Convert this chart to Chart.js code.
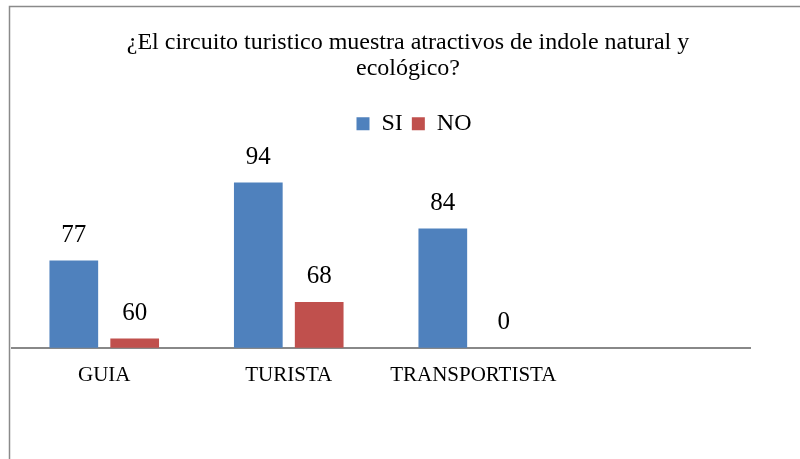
<!DOCTYPE html>
<html>
<head>
<meta charset="utf-8">
<script src="https://cdn.jsdelivr.net/npm/chart.js@4"></script>
<style>
  html, body { margin: 0; padding: 0; background: #fff; overflow: hidden; }
  #wrap { width: 800px; height: 459px; position: relative; }
</style>
</head>
<body>
<div id="wrap"><canvas id="surveyChart"></canvas></div>
<script>
const categories = ["GUIA", "TURISTA", "TRANSPORTISTA", ""];
const siValues = [77, 94, 84, null];
const noValues = [60, 68, 0, null];
const titleLines = ["¿El circuito turistico muestra atractivos de indole natural y", "ecológico?"];

const serif = "'Liberation Serif', 'Times New Roman', serif";

// grey frame around the chart object (top and left edges are visible)
const framePlugin = {
    id: "frame",
    beforeDraw(chart) {
        const ctx = chart.ctx;
        ctx.save();
        ctx.strokeStyle = "#8a8a8a";
        ctx.lineWidth = 1.5;
        ctx.beginPath();
        ctx.moveTo(9.5, 459);
        ctx.lineTo(9.5, 6.5);
        ctx.lineTo(800, 6.5);
        ctx.stroke();
        ctx.restore();
    },
};

// the original chart object is wider than the crop, so title and legend sit right of the plot centre
const shiftHeader = {
    id: "shiftHeader",
    afterLayout(chart) {
        if (chart.titleBlock) {
            chart.titleBlock.left += 27;
            chart.titleBlock.right += 27;
        }
        if (chart.legend) {
            chart.legend.left += 33;
            chart.legend.right += 33;
        }
    },
};

// value labels above each bar
const valueLabels = {
    id: "valueLabels",
    afterDatasetsDraw(chart) {
        const ctx = chart.ctx;
        const bottom = chart.chartArea.bottom;
        ctx.save();
        ctx.font = "25px " + serif;
        ctx.fillStyle = "#000";
        ctx.textAlign = "center";
        ctx.textBaseline = "middle";
        chart.data.datasets.forEach((ds, i) => {
            chart.getDatasetMeta(i).data.forEach((bar, j) => {
                const v = ds.data[j];
                if (v === null || v === undefined) return;
                const top = Math.min(bar.y, bottom);
                ctx.fillText(String(v), bar.x, top - 25);
            });
        });
        ctx.restore();
    },
};

new Chart(document.getElementById("surveyChart"), {
    type: "bar",
    data: {
        labels: categories,
        datasets: [
            {
                label: "SI",
                data: siValues,
                backgroundColor: "#4F81BD",
                categoryPercentage: 0.66,
                barPercentage: 0.8,
            },
            {
                label: "NO",
                data: noValues,
                backgroundColor: "#C0504D",
                categoryPercentage: 0.66,
                barPercentage: 0.8,
            },
        ],
    },
    options: {
        responsive: true,
        maintainAspectRatio: false,
        animation: false,
        layout: {
            padding: { left: 12, right: 50, top: 0, bottom: 56 },
        },
        scales: {
            x: {
                grid: { display: false, drawTicks: false },
                border: { display: true, color: "#888", width: 2 },
                ticks: {
                    color: "#000",
                    padding: 15,
                    font: { family: serif, size: 21 },
                },
            },
            y: {
                display: false,
                min: 58,
                max: 102,
            },
        },
        plugins: {
            title: {
                display: true,
                text: titleLines,
                color: "#000",
                font: { family: serif, size: 24, weight: "normal", lineHeight: 1.08 },
                padding: { top: 30, bottom: 21 },
            },
            legend: {
                labels: {
                    color: "#000",
                    boxWidth: 13,
                    boxHeight: 13,
                    padding: 9,
                    font: { family: serif, size: 24 },
                },
            },
            tooltip: { enabled: false },
        },
    },
    plugins: [framePlugin, shiftHeader, valueLabels],
});
</script>
</body>
</html>
